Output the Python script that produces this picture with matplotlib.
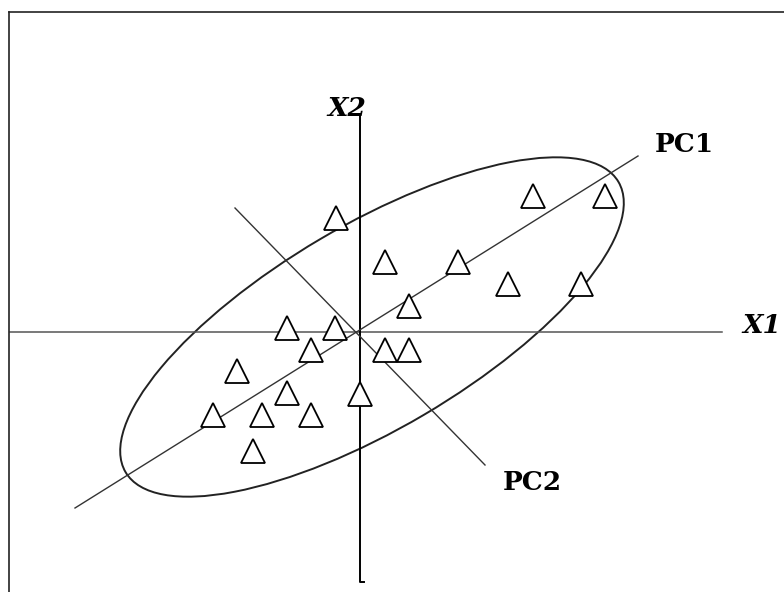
import matplotlib.pyplot as plt
from matplotlib.patches import Ellipse

# observations (two variables X1, X2)
x1 = [17.3, 24.5, -2.4, 2.5, 9.8, 14.8, 22.1, 4.9, -7.3, -2.5,
      -4.9, 2.5, 4.9, -12.3, -7.3, 0.0, -14.7, -9.8, -4.9, -10.7]
x2 = [13.6, 13.6, 11.4, 7.0, 7.0, 4.8, 4.8, 2.6, 0.4, 0.4,
      -1.8, -1.8, -1.8, -3.9, -6.1, -6.2, -8.3, -8.3, -8.3, -11.9]

# axis and component lines (end points)
x1_axis_x = [-35.0, 36.2]
x1_axis_y = [0.0, 0.0]
x2_axis_x = [0.0, 0.0, 0.4]
x2_axis_y = [21.6, -25.0, -25.0]
pc1_x = [-28.5, 27.8]
pc1_y = [-17.6, 17.6]
pc2_x = [-12.5, 12.5]
pc2_y = [12.4, -13.3]

# confidence ellipse: centre, full width, full height, angle
ell_center = (1.2, 0.5)
ell_width = 57.2
ell_height = 20.4
ell_angle = 30.5

fig = plt.figure(figsize=(7.84, 5.92), dpi=100)
ax = fig.add_axes([9 / 784, 0, 775 / 784, 580 / 592])
ax.set_xlim(-35.1, 42.4)
ax.set_ylim(-26.0, 32.0)
ax.set_aspect('auto')
ax.set_xticks([])
ax.set_yticks([])
ax.spines['right'].set_visible(False)
ax.spines['bottom'].set_visible(False)
for s in ['left', 'top']:
    ax.spines[s].set_linewidth(1.2)
    ax.spines[s].set_color('#222222')

ax.plot(x1_axis_x, x1_axis_y, color='#555555', lw=1.1)
ax.plot(x2_axis_x, x2_axis_y, color='black', lw=1.4)
ax.plot(pc1_x, pc1_y, color='#333333', lw=1.0)
ax.plot(pc2_x, pc2_y, color='#333333', lw=1.0)

ax.add_patch(Ellipse(ell_center, ell_width, ell_height, angle=ell_angle,
                     fill=False, edgecolor='#222222', lw=1.4))

ax.plot(x1, x2, linestyle='none', marker='^', ms=17, mfc='white',
        mec='black', mew=1.3)

serif = ['DejaVu Serif']
ax.text(29.5, 18.0, 'PC1', fontsize=19, fontweight='bold', family=serif,
        ha='left', va='baseline')
ax.text(14.3, -15.8, 'PC2', fontsize=19, fontweight='bold', family=serif,
        ha='left', va='baseline')
ax.text(-3.3, 21.6, 'X2', fontsize=19, fontweight='bold', style='italic',
        family=serif, ha='left', va='baseline')
ax.text(38.2, -0.1, 'X1', fontsize=19, fontweight='bold', style='italic',
        family=serif, ha='left', va='baseline', clip_on=False)

fig.savefig('out.png', dpi=100)
